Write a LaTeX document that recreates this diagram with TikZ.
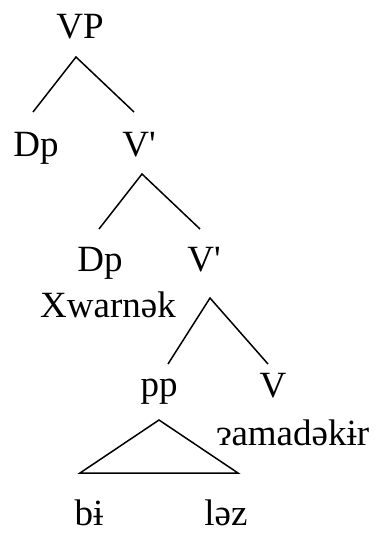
\documentclass[tikz,border=0pt]{standalone}
\usepackage{fontspec}
\setmainfont{Liberation Serif}
\tikzset{>=stealth}
\tikzset{lbl/.style={inner sep=0pt, anchor=base, font=\fontsize{37}{40}\selectfont}}

\begin{document}
\begin{tikzpicture}[x=1pt, y=-1pt, line width=1.5pt]
    \useasboundingbox (0,0) rectangle (380,535);
    \node[lbl] (VP) at (80,39) {VP};
    \node[lbl] (Dp1) at (36,156) {Dp};
    \node[lbl] (V1) at (139,156) {V\textquotesingle};
    \node[lbl] (Dp2) at (100,271) {Dp};
    \node[lbl] (V2) at (204,271) {V\textquotesingle};
    \node[lbl] (Xw) at (108,317) {Xwarnək};
    \node[lbl] (pp) at (159,396) {pp};
    \node[lbl] (V3) at (273,397) {V};
    \node[lbl] (Ram) at (293,445) {ɂamadəkɨr};
    \node[lbl] (bi) at (89,525) {bɨ};
    \node[lbl] (lez) at (226,525) {ləz};
    % branches
    \coordinate (A) at (76,57);
    \coordinate (AL) at (33,112);
    \coordinate (AR) at (134,112);
    \coordinate (B) at (142,174);
    \coordinate (BL) at (99,229);
    \coordinate (BR) at (200,229);
    \coordinate (C) at (210,298);
    \coordinate (CL) at (168,364);
    \coordinate (CR) at (268,364);
    \draw (AL) -- (A) -- (AR);
    \draw (BL) -- (B) -- (BR);
    \draw (CL) -- (C) -- (CR);
    % triangle
    \coordinate (T) at (159,420);
    \coordinate (TL) at (80,473);
    \coordinate (TR) at (238,473);
    \draw (TL) -- (T) -- (TR) -- cycle;
\end{tikzpicture}
\end{document}
